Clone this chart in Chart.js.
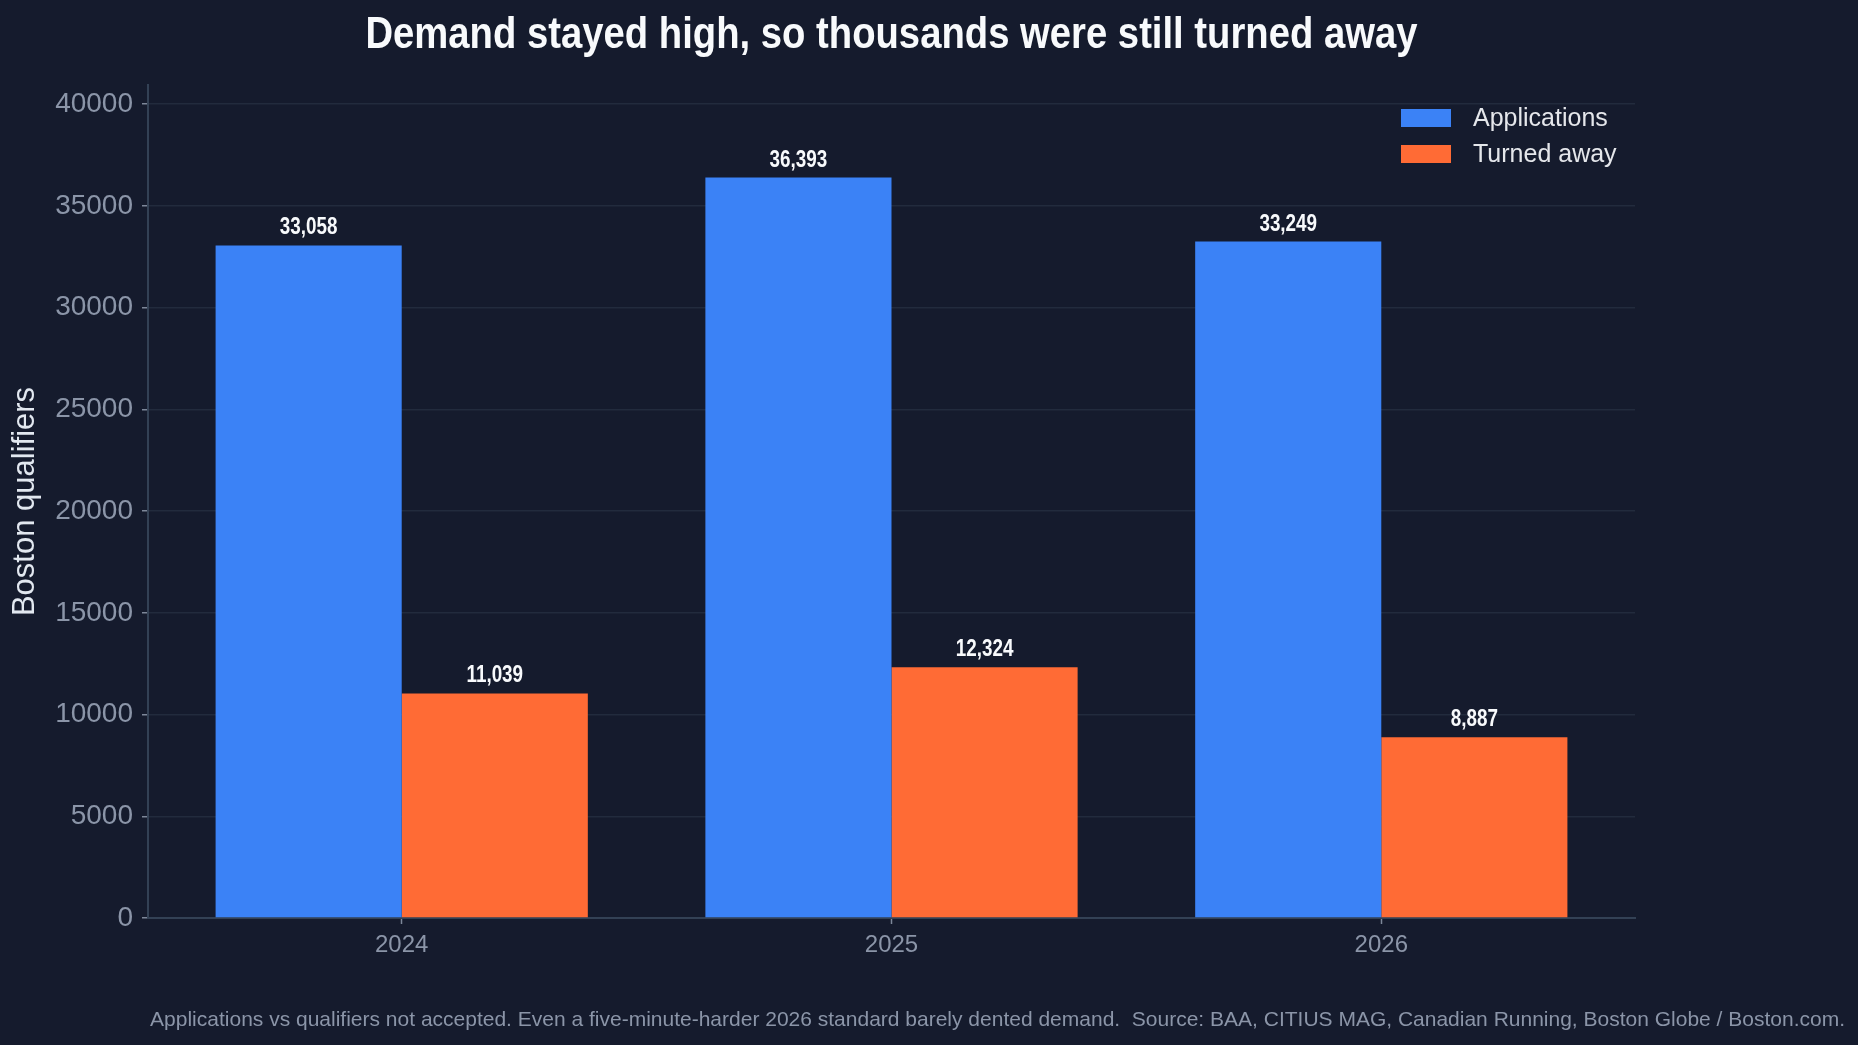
<!DOCTYPE html>
<html>
<head>
<meta charset="utf-8">
<title>Boston qualifiers turned away</title>
<script src="https://cdn.jsdelivr.net/npm/chart.js@4.4.1/dist/chart.umd.min.js"></script>
<style>
  html, body { margin: 0; padding: 0; background: #151b2d; }
  #wrap { width: 1858px; height: 1045px; position: relative; }
</style>
</head>
<body>
<div id="wrap"><canvas id="chart"></canvas></div>
<script>
// Data.
var years = ["2024", "2025", "2026"];
var applications = [33058, 36393, 33249];
var turnedAway = [11039, 12324, 8887];
var seriesNames = ["Applications", "Turned away"];
var seriesColors = ["#3b82f6", "#ff6b35"];
var yTicks = [0, 5000, 10000, 15000, 20000, 25000, 30000, 35000, 40000];
var chartTitle = "Demand stayed high, so thousands were still turned away";
var yTitle = "Boston qualifiers";
var footNote = "Applications vs qualifiers not accepted. Even a five-minute-harder 2026 standard barely dented demand.  Source: BAA, CITIUS MAG, Canadian Running, Boston Globe / Boston.com.";

var BODY = "'Liberation Sans', Arial, sans-serif";
var TICK = "#8b95a8";
// no narrow face installed: squeeze the bold sans instead
var LABEL_SQUEEZE = 0.82;
var TITLE_SQUEEZE = 0.85;

function fmt(v) { return v.toLocaleString("en-US"); }
function points(arr) { return arr.map(function (v, i) { return { x: i, y: v }; }); }

function narrowText(ctx, text, x, y, size, squeeze) {
  ctx.save();
  ctx.font = "bold " + size + "px " + BODY;
  ctx.textAlign = "center";
  ctx.textBaseline = "alphabetic";
  ctx.translate(x, y);
  ctx.scale(squeeze, 1);
  ctx.fillText(text, 0, 0);
  ctx.restore();
}

// Title, legend, value labels and footnote are drawn on top of the chart.
var extras = {
  id: "extras",
  afterDatasetsDraw: function (chart) {
    var ctx = chart.ctx;
    ctx.fillStyle = "#f8fafc";
    chart.data.datasets.forEach(function (ds, di) {
      chart.getDatasetMeta(di).data.forEach(function (bar, i) {
        narrowText(ctx, fmt(ds.data[i].y), bar.x, bar.y - 11, 23, LABEL_SQUEEZE);
      });
    });
  },
  afterDraw: function (chart) {
    var ctx = chart.ctx, area = chart.chartArea;
    ctx.save();
    // title, centred over the plot
    ctx.fillStyle = "#f8fafc";
    narrowText(ctx, chartTitle, (area.left + area.right) / 2, 48, 45, TITLE_SQUEEZE);
    // legend, top right inside the plot
    var bx = area.right - 234;
    chart.data.datasets.forEach(function (ds, di) {
      var cy = area.top + 33 + di * 36;
      ctx.fillStyle = ds.backgroundColor;
      ctx.fillRect(bx, cy - 9, 50, 18);
      ctx.fillStyle = "#e5e7eb";
      ctx.font = "25px " + BODY;
      ctx.textAlign = "left";
      ctx.textBaseline = "middle";
      ctx.fillText(ds.label, bx + 72, cy + 1);
    });
    // footnote
    ctx.font = "21px " + BODY;
    ctx.fillStyle = TICK;
    ctx.textAlign = "right";
    ctx.textBaseline = "alphabetic";
    ctx.fillText(footNote, chart.width - 13, 1026);
    ctx.restore();
  }
};

var yMax = Math.max.apply(null, applications) * 1.125;

new Chart(document.getElementById("chart"), {
  type: "bar",
  data: {
    datasets: [
      { label: seriesNames[0], data: points(applications), backgroundColor: seriesColors[0] },
      { label: seriesNames[1], data: points(turnedAway), backgroundColor: seriesColors[1] }
    ]
  },
  options: {
    responsive: true, maintainAspectRatio: false, animation: false,
    categoryPercentage: 0.76, barPercentage: 1.0,
    layout: { padding: { left: 0, right: 223, top: 85, bottom: 0 } },
    plugins: {
      legend: { display: false },
      tooltip: { enabled: false },
      title: { display: false }
    },
    scales: {
      x: {
        type: "linear", min: -0.518, max: years.length - 1 + 0.518, offset: false,
        afterBuildTicks: function (s) { s.ticks = years.map(function (y, i) { return { value: i }; }); },
        afterFit: function (s) { s.height = 127; },
        ticks: {
          color: TICK, font: { family: BODY, size: 24 }, padding: 7,
          callback: function (v) { return years[Math.round(v)]; }
        },
        grid: { offset: false, drawOnChartArea: false, tickLength: 6, tickColor: "#7d8799", tickWidth: 1.5 },
        border: { display: true, color: "#334155", width: 2 }
      },
      y: {
        min: 0, max: yMax,
        afterBuildTicks: function (s) { s.ticks = yTicks.map(function (v) { return { value: v }; }); },
        afterFit: function (s) { s.width = 148; },
        ticks: {
          color: TICK, font: { family: BODY, size: 28 }, padding: 9,
          callback: function (v) { return String(v); }
        },
        grid: { color: "#222b3d", lineWidth: 1.5, tickLength: 6, tickColor: "#7d8799", tickWidth: 1.5 },
        border: { display: true, color: "#334155", width: 2 },
        title: {
          display: true, text: yTitle, color: "#e2e8f0",
          font: { family: BODY, size: 31 }, padding: { top: 7, bottom: 0 }
        }
      }
    }
  },
  plugins: [extras]
});
</script>
</body>
</html>
